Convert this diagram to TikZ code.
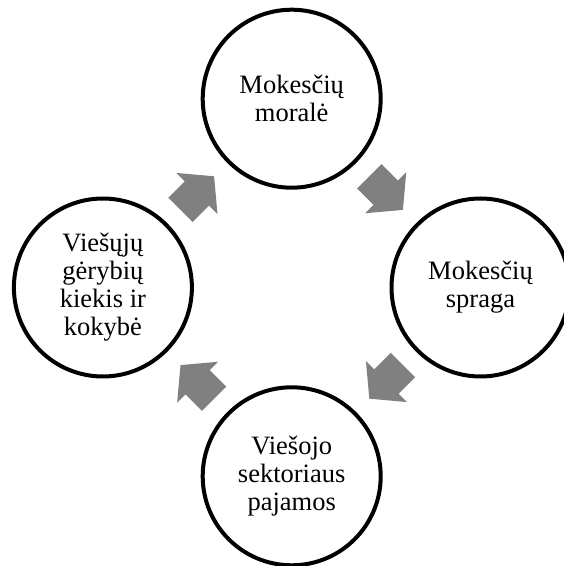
\documentclass[tikz,border=0pt]{standalone}
\usepackage{fontspec}
\setmainfont{Liberation Serif}
\usetikzlibrary{calc}
\begin{document}
\begin{tikzpicture}[x=1pt,y=1pt,
  bubble/.style={circle,draw=black,line width=4pt,minimum size=178pt,inner sep=0pt,
    align=center,font=\fontsize{26.5}{28}\selectfont},
  blockarrow/.style={fill=black!50,draw=none}]
\useasboundingbox (0,0) rectangle (564,566);
\node[bubble] (moral) at (291.7,467.3) {Mokesčių\\moralė};
\node[bubble] (gap) at (480.5,278.5) {Mokesčių\\spraga};
\node[bubble] (rev) at (291.7,89.7) {Viešojo\\sektoriaus\\pajamos};
\node[bubble] (goods) at (102.9,278.5) {Viešųjų\\gėrybių\\kiekis ir\\kokybė};
\coordinate (a1) at ($(moral.center)!0.5!(gap.center)$);
\coordinate (a2) at ($(gap.center)!0.5!(rev.center)$);
\coordinate (a3) at ($(rev.center)!0.5!(goods.center)$);
\coordinate (a4) at ($(goods.center)!0.5!(moral.center)$);
\foreach \c/\ang in {a1/-45,a2/-135,a3/135,a4/45}{
  \fill[blockarrow,shift={(\c)},rotate=\ang]
    (-23.75,17.2) -- (-0.5,17.2) -- (-0.5,29) -- (23.75,0) -- (-0.5,-29)
    -- (-0.5,-17.2) -- (-23.75,-17.2) -- cycle;
}
\end{tikzpicture}
\end{document}
